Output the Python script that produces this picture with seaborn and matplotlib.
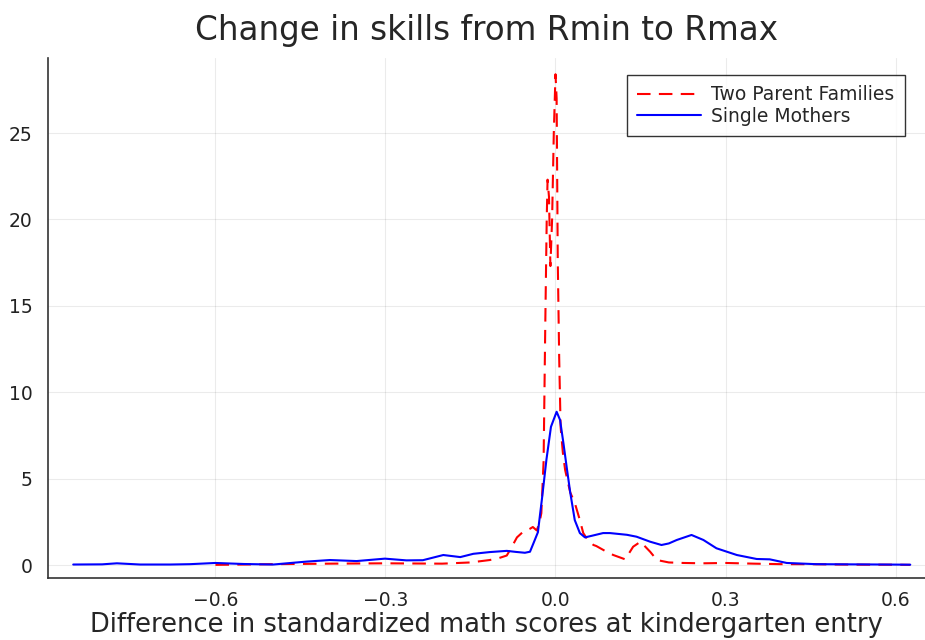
import pandas as pd
import matplotlib
matplotlib.use("Agg")
import matplotlib.pyplot as plt
import seaborn as sns

# density estimates
two_parent_x = [-0.60, -0.50, -0.40, -0.30, -0.20, -0.15, -0.116, -0.100, -0.086, -0.078,
                -0.068, -0.058, -0.045, -0.040, -0.033, -0.028, -0.025, -0.021, -0.018, -0.0155,
                -0.014, -0.0115, -0.009, -0.006, -0.003, 0.0, 0.002, 0.004, 0.0065, 0.009,
                0.013, 0.017, 0.026, 0.034, 0.043, 0.049, 0.058, 0.067, 0.072, 0.090,
                0.102, 0.123, 0.137, 0.150, 0.167, 0.179, 0.200, 0.226, 0.26, 0.30,
                0.35, 0.40, 0.45, 0.50, 0.55, 0.60, 0.626]
two_parent_y = [0.01, 0.05, 0.08, 0.10, 0.08, 0.15, 0.29, 0.40, 0.55, 1.0,
                1.6, 1.9, 2.1, 2.2, 2.0, 2.5, 3.0, 6.0, 14.0, 20.0,
                22.3, 21.3, 17.3, 20.0, 25.0, 28.4, 27.0, 17.6, 12.0, 8.0,
                6.5, 5.5, 4.2, 3.6, 2.6, 1.85, 1.4, 1.16, 1.1, 0.77,
                0.58, 0.33, 1.06, 1.35, 0.77, 0.29, 0.15, 0.12, 0.10, 0.12,
                0.08, 0.05, 0.05, 0.03, 0.02, 0.02, 0.01]

single_x = [-0.851, -0.80, -0.774, -0.733, -0.68, -0.645, -0.60, -0.55, -0.498, -0.439,
            -0.398, -0.351, -0.301, -0.263, -0.234, -0.198, -0.168, -0.145, -0.116, -0.086,
            -0.070, -0.054, -0.045, -0.039, -0.031, -0.027, -0.024, -0.016, -0.008, 0.002,
            0.008, 0.014, 0.020, 0.026, 0.034, 0.043, 0.052, 0.065, 0.084, 0.096,
            0.126, 0.143, 0.167, 0.187, 0.200, 0.214, 0.240, 0.261, 0.284, 0.320,
            0.355, 0.378, 0.408, 0.46, 0.52, 0.58, 0.626]
single_y = [0.03, 0.04, 0.10, 0.03, 0.03, 0.05, 0.12, 0.06, 0.03, 0.20,
            0.29, 0.23, 0.37, 0.27, 0.28, 0.58, 0.46, 0.65, 0.75, 0.82,
            0.76, 0.71, 0.77, 1.25, 1.9, 3.0, 3.8, 6.1, 8.0, 8.87,
            8.4, 7.05, 5.6, 4.2, 2.6, 1.85, 1.6, 1.7, 1.85, 1.85,
            1.75, 1.64, 1.35, 1.16, 1.25, 1.45, 1.74, 1.45, 0.97, 0.58,
            0.35, 0.33, 0.12, 0.05, 0.04, 0.03, 0.02]

x_ticks = [-0.6, -0.3, 0.0, 0.3, 0.6]
x_ticklabels = ["\u22120.6", "\u22120.3", "0.0", "0.3", "0.6"]
y_ticks = [0, 5, 10, 15, 20, 25]

df = pd.concat([
    pd.DataFrame({"x": two_parent_x, "y": two_parent_y, "group": "Two Parent Families"}),
    pd.DataFrame({"x": single_x, "y": single_y, "group": "Single Mothers"}),
])

sns.set_style("white")
plt.rcParams["font.family"] = ["DejaVu Sans"]

fig = plt.figure(figsize=(9.25, 6.4), dpi=100)
ax = fig.add_axes([48 / 925, 1 - 578 / 640, 1 - 48 / 925, (578 - 58) / 640])

sns.lineplot(data=df, x="x", y="y", hue="group", style="group",
             palette={"Two Parent Families": "#ff0000", "Single Mothers": "#0000ff"},
             dashes={"Two Parent Families": (6.5, 4), "Single Mothers": ""},
             linewidth=1.5, sort=False, estimator=None, ax=ax)

ax.set_xlim(-0.8955, 0.652)
ax.set_ylim(-0.75, 29.34)
ax.set_xticks(x_ticks)
ax.set_xticklabels(x_ticklabels)
ax.set_yticks(y_ticks)
ax.grid(True, color="black", alpha=0.08, linewidth=0.8)
ax.tick_params(direction="in", length=4, width=1, labelsize=13.5, colors="black",
               labelcolor="#222222")
ax.tick_params(axis="x", pad=9)
ax.tick_params(axis="y", pad=11)
for side in ["top", "right"]:
    ax.spines[side].set_visible(False)
for side in ["left", "bottom"]:
    ax.spines[side].set_color("#333333")
    ax.spines[side].set_linewidth(1.2)

ax.set_title("Change in skills from Rmin to Rmax", fontsize=23.5, pad=13)
ax.set_xlabel("Difference in standardized math scores at kindergarten entry",
              fontsize=18.5, labelpad=2)
ax.set_ylabel("")

leg = ax.legend(loc="upper right", bbox_to_anchor=(0.977, 0.967), fontsize=13.5,
                frameon=True, fancybox=False, edgecolor="black", handlelength=3.4,
                borderpad=0.55, labelspacing=0.12, handletextpad=0.55, borderaxespad=0)
leg.get_frame().set_linewidth(1.0)
leg.set_title(None)

fig.savefig("out.png", dpi=100)
